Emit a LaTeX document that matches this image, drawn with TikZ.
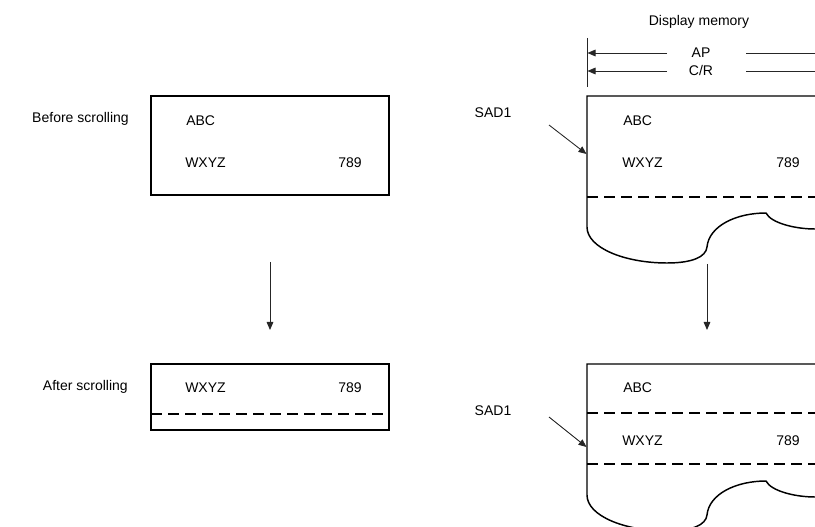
\documentclass[tikz,border=0pt]{standalone}
\usepackage{fontspec}
\setmainfont{Liberation Sans}
\usetikzlibrary{arrows.meta}
\begin{document}
\begin{tikzpicture}[x=0.75pt,y=-0.75pt,
  lbl/.style={inner sep=0pt, text height=7.5pt, text depth=0pt, font=\fontsize{10.5}{13}\selectfont},
  btxt/.style={lbl},
  frame/.style={line width=1.1pt, line join=miter},
  dsh/.style={line width=1pt, dash pattern=on 8.25pt off 4.5pt},
  arr/.style={line width=0.65pt, draw=black!85, -{Triangle[length=6pt,width=5pt]}},
  pline/.style={line width=0.65pt, draw=black!85}]
\useasboundingbox (0,0) rectangle (815,527);
\clip (0,0) rectangle (815,527);

% ---------- left side ----------
\node[lbl, anchor=east] (before) at (129,118) {Before scrolling};
\node[lbl, anchor=east] (after) at (128,386) {After scrolling};

\coordinate (b1a) at (151,96);
\coordinate (b1b) at (389,195);
\draw[frame] (b1a) rectangle (b1b);
\node[btxt, anchor=west] (b1abc) at (186,121) {ABC};
\node[btxt, anchor=west] (b1wxyz) at (185,163) {WXYZ};
\node[btxt, anchor=east] (b1num) at (362,163) {789};

\coordinate (ldn1) at (270,262);
\coordinate (ldn2) at (270,330);
\draw[arr] (ldn1) -- (ldn2);

\coordinate (b2a) at (151,364);
\coordinate (b2b) at (389,430);
\draw[frame] (b2a) rectangle (b2b);
\coordinate (b2d1) at (151,414);
\coordinate (b2d2) at (389,414);
\draw[dsh] (b2d1) -- (b2d2);
\node[btxt, anchor=west] (b2wxyz) at (185,388) {WXYZ};
\node[btxt, anchor=east] (b2num) at (362,388) {789};

% ---------- right side ----------
\node[lbl] (dm) at (699,21) {Display memory};
\coordinate (vt) at (587,38);
\coordinate (vb) at (587,87);
\draw[pline] (vt) -- (vb);

\node[lbl] (ap) at (701,53) {AP};
\node[lbl] (cr) at (701,71) {C/R};
\coordinate (apa) at (667,53);
\coordinate (apb) at (587.5,53);
\coordinate (apc) at (746,53);
\coordinate (apd) at (815,53);
\draw[arr] (apa) -- (apb);
\draw[pline] (apc) -- (apd);
\coordinate (cra) at (667,71);
\coordinate (crb) at (587.5,71);
\coordinate (crc) at (746,71);
\coordinate (crd) at (815,71);
\draw[arr] (cra) -- (crb);
\draw[pline] (crc) -- (crd);

% top memory
\draw[frame] (815,96) -- (587,96) -- (587,227)
  .. controls (587,248) and (625,263) .. (667,263)
  .. controls (692,263) and (706,257) .. (707,247)
  .. controls (709,226) and (736,213) .. (766,213)
  .. controls (771,223) and (795,229) .. (815,229);
\coordinate (t1d1) at (587,197);
\coordinate (t1d2) at (815,197);
\draw[dsh] (t1d1) -- (t1d2);
\node[btxt, anchor=west] (t1abc) at (623,121) {ABC};
\node[btxt, anchor=west] (t1wxyz) at (622,163) {WXYZ};
\node[btxt, anchor=east] (t1num) at (800,163) {789};

\node[lbl] (sad1) at (493,113) {SAD1};
\coordinate (s1a) at (549,125);
\coordinate (s1b) at (586.5,154);
\draw[arr] (s1a) -- (s1b);

\coordinate (rdn1) at (707,264);
\coordinate (rdn2) at (707,330);
\draw[arr] (rdn1) -- (rdn2);

% bottom memory
\begin{scope}[shift={(0,268)}]
\draw[frame] (815,96) -- (587,96) -- (587,227)
  .. controls (587,248) and (625,263) .. (667,263)
  .. controls (692,263) and (706,257) .. (707,247)
  .. controls (709,226) and (736,213) .. (766,213)
  .. controls (771,223) and (795,229) .. (815,229);
\end{scope}
\coordinate (t2d1) at (587,413);
\coordinate (t2d2) at (815,413);
\draw[dsh] (t2d1) -- (t2d2);
\coordinate (t2d3) at (587,464);
\coordinate (t2d4) at (815,464);
\draw[dsh] (t2d3) -- (t2d4);
\node[btxt, anchor=west] (t2abc) at (623,388) {ABC};
\node[btxt, anchor=west] (t2wxyz) at (622,441) {WXYZ};
\node[btxt, anchor=east] (t2num) at (800,441) {789};

\node[lbl] (sad2) at (493,411) {SAD1};
\coordinate (s2a) at (549,417);
\coordinate (s2b) at (586.5,447);
\draw[arr] (s2a) -- (s2b);
\end{tikzpicture}
\end{document}
